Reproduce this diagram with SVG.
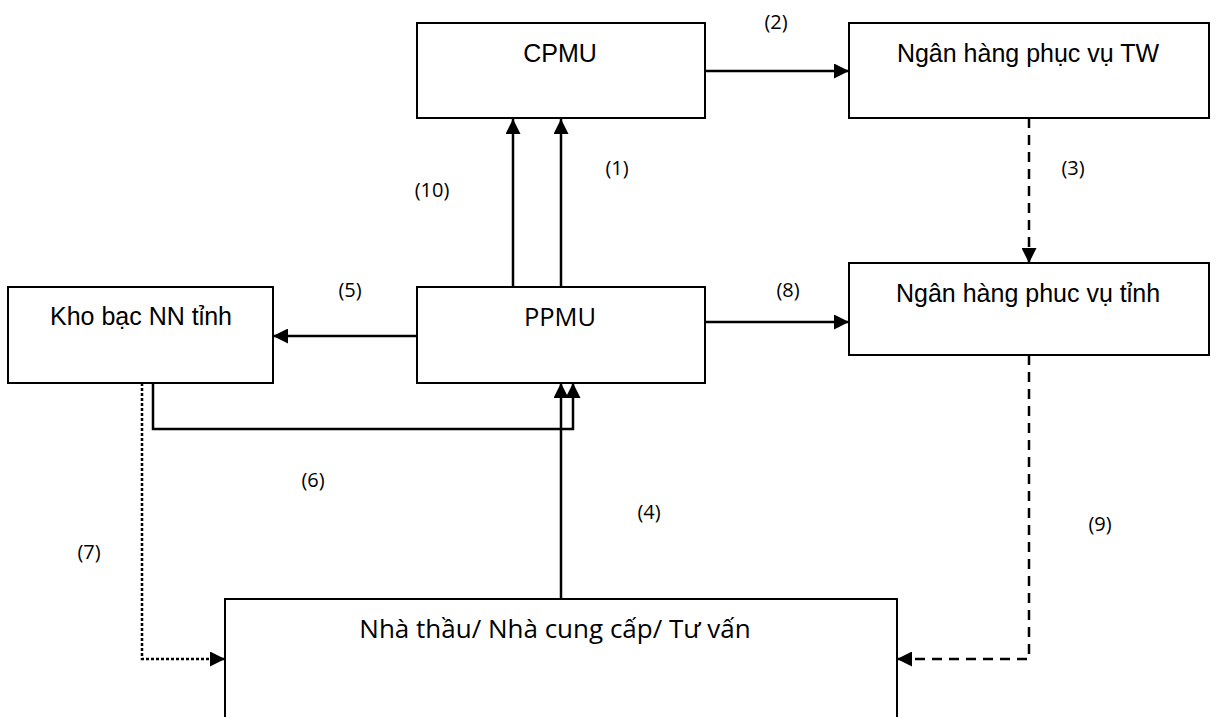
<svg xmlns="http://www.w3.org/2000/svg" width="1217" height="717" viewBox="0 0 1217 717">
<style>
.box{fill:#fff;stroke:#000;stroke-width:2}
.t{font-family:"Liberation Sans Narrow","Liberation Sans",Arial,sans-serif;font-size:25px;fill:#000;text-anchor:middle}
.o{font-family:"Open Sans","Noto Sans",sans-serif;font-size:26px;fill:#000;text-anchor:middle}
.lbl{font-family:"Open Sans","Noto Sans",sans-serif;font-size:20px;fill:#000;text-anchor:middle}
.c{fill:none;stroke:#000;stroke-width:2.5}
.dash{stroke-dasharray:10,7}
.dot{stroke-dasharray:3,2}
</style>
<defs>
<marker id="ah" viewBox="0 0 10 10" refX="10" refY="5" markerWidth="15" markerHeight="15" markerUnits="userSpaceOnUse" orient="auto">
<path d="M0,0 L10,5 L0,10 z" fill="#000"/>
</marker>
</defs>
<rect width="1217" height="717" fill="#fff"/>
<g id="cpmu"><rect class="box" x="417" y="23" width="288" height="95"/><text class="t" x="560" y="62">CPMU</text></g>
<g id="nh-tw"><rect class="box" x="849" y="23" width="360" height="95"/><text class="t" x="1028" y="62">Ngân hàng phục vụ TW</text></g>
<g id="kho-bac"><rect class="box" x="8" y="287" width="265" height="96"/><text class="t" x="141" y="325">Kho bạc NN tỉnh</text></g>
<g id="ppmu"><rect class="box" x="417" y="287" width="288" height="96"/><text class="o" x="560" y="326" style="font-size:25.5px">PPMU</text></g>
<g id="nh-tinh"><rect class="box" x="849" y="263" width="360" height="92"/><text class="t" x="1028" y="302">Ngân hàng phuc vụ tỉnh</text></g>
<g id="nha-thau"><rect class="box" x="225" y="599" width="672" height="130"/><text class="o" x="555" y="638">Nhà thầu/ Nhà cung cấp/ Tư vấn</text></g>
<g id="connectors">
<path class="c" d="M705,71 L849,71" marker-end="url(#ah)"/>
<path class="c" d="M513,287 L513,119" marker-end="url(#ah)"/>
<path class="c" d="M561,287 L561,119" marker-end="url(#ah)"/>
<path class="c dash" d="M1029,118 L1029,263" marker-end="url(#ah)"/>
<path class="c" d="M417,336 L273,336" marker-end="url(#ah)"/>
<path class="c" d="M705,322 L849,322" marker-end="url(#ah)"/>
<path class="c" d="M561,599 L561,383" marker-end="url(#ah)"/>
<path class="c" d="M153,383 L153,429 L573,429 L573,383" marker-end="url(#ah)"/>
<path class="c dot" d="M142,383 L142,659 L225,659" marker-end="url(#ah)"/>
<path class="c dash" d="M1029,355 L1029,659 L897,659" marker-end="url(#ah)"/>
</g>
<g id="labels">
<text class="lbl" x="776" y="29">(2)</text>
<text class="lbl" x="617" y="175">(1)</text>
<text class="lbl" x="432" y="197">(10)</text>
<text class="lbl" x="1073" y="175">(3)</text>
<text class="lbl" x="350" y="297">(5)</text>
<text class="lbl" x="788" y="297">(8)</text>
<text class="lbl" x="313" y="487">(6)</text>
<text class="lbl" x="649" y="519">(4)</text>
<text class="lbl" x="89" y="559">(7)</text>
<text class="lbl" x="1100" y="531">(9)</text>
</g>
</svg>
